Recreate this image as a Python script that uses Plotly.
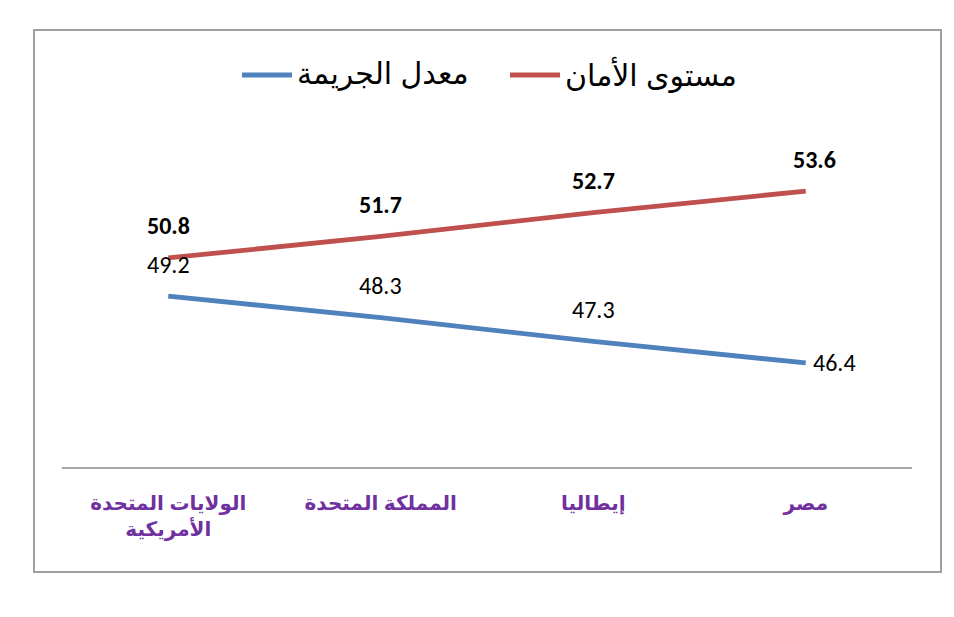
import plotly.graph_objects as go

categories = ["الولايات المتحدة<br>الأمريكية", "المملكة المتحدة", "إيطاليا", "مصر"]
safety_name = "مستوى الأمان"
crime_name = "معدل الجريمة"
safety = [50.8, 51.7, 52.7, 53.6]
crime = [49.2, 48.3, 47.3, 46.4]

RED = "#C0504D"
BLUE = "#4F81BD"
NUMFONT = "Calibri, Carlito, Lato, sans-serif"
ARFONT = "Arial, DejaVu Sans, sans-serif"

# page offset (body margin) and layout geometry
OFF = 8
W, H = 946, 609
L, R, T, B = 54, 42, 122, 150
PW, PH = W - L - R, H - T - B

def px(sx):  # screen x -> paper x
    return (sx - OFF - L) / PW

def py(sy):  # screen y -> paper y
    return 1 - (sy - OFF - T) / PH

fig = go.Figure()
fig.add_trace(go.Scatter(x=categories, y=crime, mode="lines", name=crime_name,
                         line=dict(color=BLUE, width=4.8), showlegend=False))
fig.add_trace(go.Scatter(x=categories, y=safety, mode="lines", name=safety_name,
                         line=dict(color=RED, width=4.8), showlegend=False))

annotations = []
for i, (c, v) in enumerate(zip(categories, safety)):
    annotations.append(dict(x=c, y=v, text=f"<b>{v}</b>", showarrow=False,
                            yshift=32, xshift=(9 if i == 3 else 0),
                            font=dict(family=NUMFONT, size=24, color="#000000")))
for i, (c, v) in enumerate(zip(categories, crime)):
    if i == 3:
        annotations.append(dict(x=c, y=v, text=f"{v}", showarrow=False,
                                xanchor="left", xshift=5,
                                font=dict(family=NUMFONT, size=24, color="#000000")))
    else:
        annotations.append(dict(x=c, y=v, text=f"{v}", showarrow=False,
                                yshift=32, font=dict(family=NUMFONT, size=24, color="#000000")))

shapes = [
    dict(type="rect", xref="paper", yref="paper", x0=px(34), x1=px(941), y0=py(572), y1=py(30),
         line=dict(color="#A0A0A0", width=2)),
    dict(type="line", xref="paper", yref="paper", x0=px(242), x1=px(292), y0=py(75), y1=py(75),
         line=dict(color=BLUE, width=4.8)),
    dict(type="line", xref="paper", yref="paper", x0=px(510), x1=px(560), y0=py(75), y1=py(75),
         line=dict(color=RED, width=4.8)),
]
annotations.append(dict(xref="paper", yref="paper", x=px(295), y=py(74), text=crime_name,
                        showarrow=False, xanchor="left", yanchor="middle",
                        font=dict(family=ARFONT, size=30, color="#000000")))
annotations.append(dict(xref="paper", yref="paper", x=px(563), y=py(74), text=safety_name,
                        showarrow=False, xanchor="left", yanchor="middle",
                        font=dict(family=ARFONT, size=30, color="#000000")))

fig.update_layout(
    width=W, height=H,
    paper_bgcolor="white", plot_bgcolor="white",
    margin=dict(l=L, r=R, t=T, b=B),
    showlegend=False,
    shapes=shapes,
    annotations=annotations,
    xaxis=dict(type="category", range=[-0.5, 3.5], showgrid=False, zeroline=False,
               showline=True, linecolor="#A6A6A6", linewidth=2, ticks="",
               tickfont=dict(family=ARFONT, size=20, color="#7030A0", weight="bold"),
               ticklabelstandoff=17, fixedrange=True),
    yaxis=dict(range=[42.04, 56.16], visible=False, fixedrange=True),
)

fig.write_html("out.html")
